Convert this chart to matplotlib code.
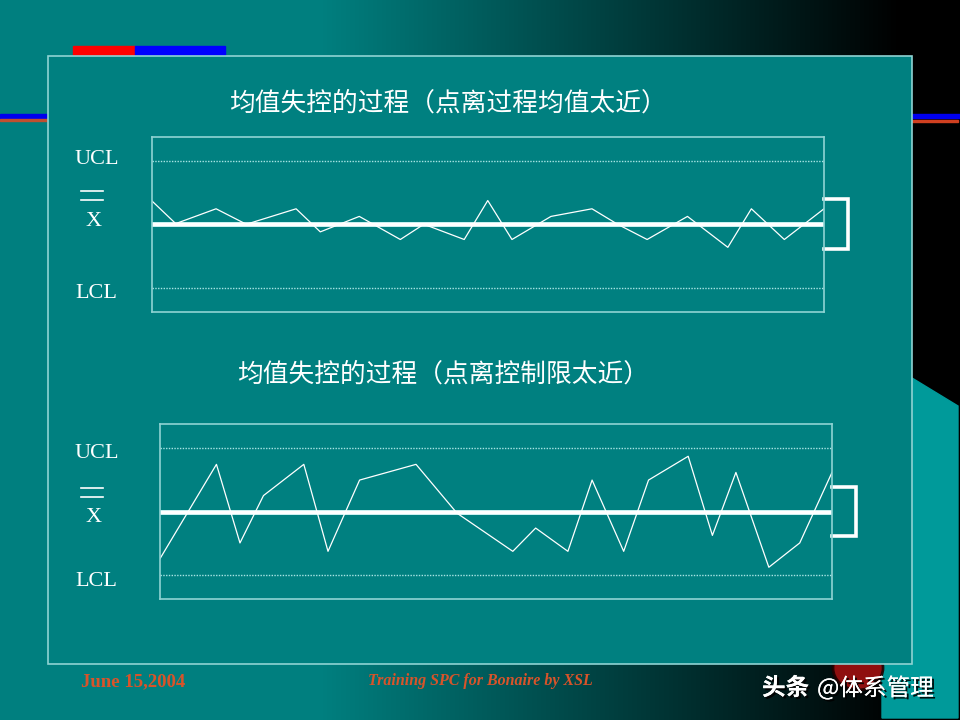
import matplotlib
matplotlib.use("Agg")
import matplotlib.pyplot as plt
import matplotlib.patches as mpatches
import matplotlib.patheffects as pe
import numpy as np

plt.rcParams['font.family'] = ['Noto Sans CJK SC', 'DejaVu Sans']

# data: x position along the chart (0-100), value in sigma units from centre line
title_1 = "均值失控的过程（点离过程均值太近）"
x_1 = [0, 3.6, 9.6, 14.1, 21.5, 25.1, 30.9, 37.0, 40.5, 46.5, 50.0,
       53.6, 59.4, 65.5, 69.3, 73.7, 79.7, 85.7, 89.2, 94.1, 100]
y_1 = [1.12, 0.03, 0.73, 0.0, 0.73, -0.36, 0.37, -0.72, 0.0, -0.72, 1.12,
       -0.72, 0.37, 0.73, 0.0, -0.72, 0.37, -1.09, 0.73, -0.72, 0.73]

title_2 = "均值失控的过程（点离控制限太近）"
x_2 = [0, 8.4, 11.9, 15.4, 21.4, 25.0, 29.7, 38.1, 44.2, 52.5, 55.9,
       60.7, 64.3, 69.0, 72.7, 78.6, 82.2, 85.7, 90.6, 95.2, 100]
y_2 = [-2.22, 2.22, -1.48, 0.75, 2.22, -1.875, 1.48, 2.22, -0.08, -1.875, -0.78,
       -1.875, 1.48, -1.875, 1.48, 2.6, -1.125, 1.84, -2.625, -1.48, 1.84]

ucl, lcl, centre = 3, -3, 0

TEAL = '#008080'
EDGE = '#8fd3d3'
W, H = 960, 720

fig = plt.figure(figsize=(9.6, 7.2), dpi=100)
bg = fig.add_axes([0, 0, 1, 1])
bg.set_xlim(0, W)
bg.set_ylim(H, 0)
bg.axis('off')

# slide background: teal fading to black on the right
xs = np.arange(W)
f = np.clip((900 - xs) / 580.0, 0, 1)
grad = np.zeros((2, W, 3))
grad[:, :, 1] = 0.5 * f
grad[:, :, 2] = 0.5 * f
bg.imshow(grad, extent=(0, W, H, 0), aspect='auto', zorder=0)

# faint arc top-left
bg.add_patch(mpatches.Arc((60, 560), 700, 1120, theta1=72, theta2=100, color='#40b0b0', lw=1.0, zorder=1))

# coloured strips
bg.add_patch(mpatches.Rectangle((73, 46), 62, 9, color='#ff0000', zorder=2))
bg.add_patch(mpatches.Rectangle((135, 46), 90, 9, color='#0000ff', zorder=2))
bg.add_patch(mpatches.Rectangle((0, 114), 48, 3.5, color='#0000ee', zorder=2))
bg.add_patch(mpatches.Rectangle((0, 119), 48, 2, color='#c05030', zorder=2))
bg.add_patch(mpatches.Rectangle((912, 114), 48, 3.5, color='#0000ee', zorder=2))
bg.add_patch(mpatches.Rectangle((912, 120), 46, 2, color='#d04020', zorder=2))

# lighter teal shape on the right
bg.add_patch(mpatches.Polygon([(912, 378), (958, 406), (958, 718), (882, 718), (882, 660), (912, 660)],
                              closed=True, color='#009a9a', zorder=2))

# small red logo, mostly hidden
bg.add_patch(mpatches.Ellipse((858, 668), 50, 44, facecolor='#a01010', edgecolor='#200000', lw=2,
                              alpha=0.9, zorder=2.5))

# main content box
bg.add_patch(mpatches.Rectangle((48, 56), 864, 608, facecolor=TEAL, edgecolor=EDGE, lw=1.2, zorder=3))

# titles
bg.text(448, 104, title_1, color='white', fontsize=18.5, ha='center', va='center', zorder=5)
bg.text(443, 375, title_2, color='white', fontsize=18.5, ha='center', va='center', zorder=5)


def control_chart(box, xv, yv, label_y):
    left, top, right, bottom = box
    ax = fig.add_axes([left / W, 1 - bottom / H, (right - left) / W, (bottom - top) / H])
    ax.set_facecolor('none')
    ax.set_xlim(0, 100)
    ax.set_ylim(-4.12, 4.12)
    ax.set_xticks([])
    ax.set_yticks([])
    for s in ax.spines.values():
        s.set_color(EDGE)
        s.set_linewidth(1.2)
    ax.axhline(ucl, color='#a8e4e4', lw=1, ls=(0, (1, 1)))
    ax.axhline(lcl, color='#a8e4e4', lw=1, ls=(0, (1, 1)))
    ax.axhline(centre, color='#c8f0f0', lw=3.6)
    ax.axhline(centre, color='white', lw=2.2)
    ax.plot(xv, yv, color='white', lw=0.9)
    # bracket on the right
    ax.plot([100, 103.6, 103.6, 100], [1.17, 1.17, -1.15, -1.15], color='white', lw=2.6,
            clip_on=False, solid_joinstyle='miter')

    u, xb, l = label_y
    serif = ['Liberation Serif', 'DejaVu Serif']
    bg.text(97, u + 2, 'UCL', color='white', fontsize=16, family=serif, ha='center', va='center', zorder=5)
    bg.text(94, xb + 2, 'X', color='white', fontsize=16, family=serif, ha='center', va='center', zorder=5)
    bg.plot([81, 103], [xb - 28, xb - 28], color='white', lw=1.2, zorder=5)
    bg.plot([81, 103], [xb - 19, xb - 19], color='white', lw=1.2, zorder=5)
    bg.text(96, l + 2, 'LCL', color='white', fontsize=16, family=serif, ha='center', va='center', zorder=5)
    return ax


control_chart((151.5, 137, 824, 311.5), x_1, y_1, (157, 219, 292))
control_chart((160, 424, 832, 599), x_2, y_2, (452, 516, 580))

# footer
bg.text(81, 682, 'June 15,2004', color='#d8542a', fontsize=13.5, fontweight='bold',
        family=['Liberation Serif'], ha='left', va='center', zorder=5)
bg.text(480, 681, 'Training SPC for Bonaire by XSL', color='#d8542a', fontsize=11.5,
        fontweight='bold', style='italic', family=['Liberation Serif'], ha='center', va='center', zorder=5)

# watermark
shadow = [pe.withSimplePatchShadow(offset=(1.5, -1.5), shadow_rgbFace='black', alpha=0.9), pe.Normal()]
bg.text(762, 688, '头条', color='white', fontsize=17, fontweight='bold', ha='left', va='center',
        zorder=6, path_effects=shadow)
bg.text(817, 688, '@体系管理', color='white', fontsize=17, ha='left', va='center',
        zorder=6, path_effects=shadow)

fig.savefig('out.png', dpi=100)
